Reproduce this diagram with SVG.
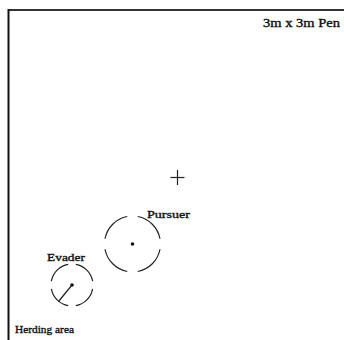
<svg xmlns="http://www.w3.org/2000/svg" width="344" height="340" viewBox="0 0 344 340">
<style>
.lbl{font-family:"Liberation Serif","Times New Roman",serif;fill:#111;stroke:#111;stroke-width:0.35}
.ring{fill:none;stroke:#222;stroke-width:1.2}
.dot{fill:#111}
</style>
<rect width="344" height="340" fill="#fff"/>
<g id="pen">
<line x1="8.5" y1="10" x2="344" y2="10" stroke="#333" stroke-width="2"/>
<line x1="8.5" y1="9" x2="8.5" y2="340" stroke="#111" stroke-width="2"/>
<text class="lbl" x="263" y="26.5" font-size="12" textLength="77" lengthAdjust="spacingAndGlyphs">3m x 3m Pen</text>
</g>
<g id="herding-area">
<text class="lbl" x="15" y="332.5" font-size="11" textLength="59" lengthAdjust="spacingAndGlyphs">Herding area</text>
</g>
<g id="goal">
<line x1="170.5" y1="177.5" x2="184.5" y2="177.5" stroke="#222" stroke-width="1.2"/>
<line x1="177.5" y1="170" x2="177.5" y2="185" stroke="#222" stroke-width="1.2"/>
</g>
<g id="pursuer">
<circle class="ring" cx="132.5" cy="244" r="28" pathLength="100" stroke-dasharray="19 6" stroke-dashoffset="22"/>
<circle class="dot" cx="132.5" cy="244" r="1.8"/>
<text class="lbl" x="147" y="218" font-size="11" textLength="43" lengthAdjust="spacingAndGlyphs">Pursuer</text>
</g>
<g id="evader">
<circle class="ring" cx="72" cy="285" r="21" pathLength="100" stroke-dasharray="19 6" stroke-dashoffset="22"/>
<circle class="dot" cx="72" cy="285" r="1.8"/>
<line x1="72" y1="285" x2="58.5" y2="301.5" stroke="#222" stroke-width="1.2"/>
<text class="lbl" x="47" y="260.5" font-size="11" textLength="38" lengthAdjust="spacingAndGlyphs">Evader</text>
</g>
</svg>
